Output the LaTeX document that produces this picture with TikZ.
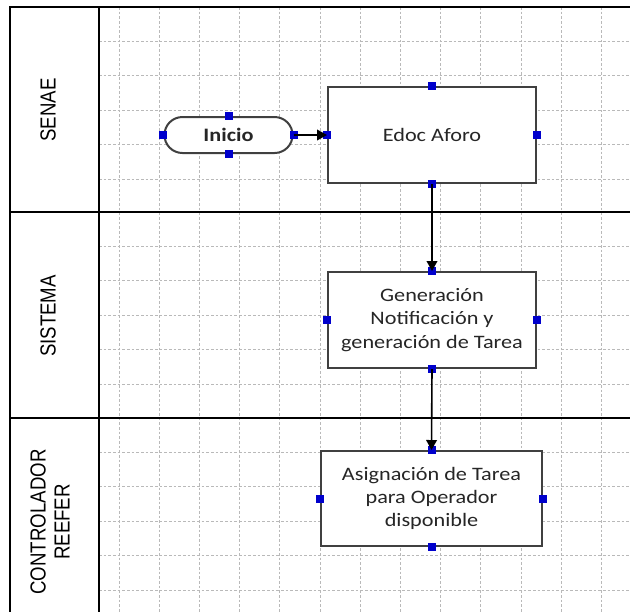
\documentclass[tikz,border=0pt]{standalone}
\usepackage{fontspec}
\setmainfont{Carlito}
\newfontfamily\boxfont[FakeStretch=1.17]{Carlito}
\newfontfamily\lanefont[FakeStretch=0.855]{Liberation Sans}
\usetikzlibrary{arrows.meta,shapes.misc}

\begin{document}
\begin{tikzpicture}[x=0.75pt, y=-0.75pt,
    lane/.style={line width=1.7pt, black},
    gridline/.style={gray!55, line width=0.6pt, dash pattern=on 2pt off 1.5pt},
    task/.style={draw=black!75, line width=1.5pt, fill=white, align=center, text=black!85,
      font=\boxfont\fontsize{14.25}{17.4}\selectfont},
    start/.style={task, rounded rectangle, font=\boxfont\bfseries\fontsize{14.25}{17.4}\selectfont},
    flow/.style={line width=1.2pt, -{Triangle[length=7.5pt,width=8pt]}},
    lanelabel/.style={rotate=90, align=center, font=\lanefont\fontsize{16.35}{18}\selectfont},
    cpoint/.style={fill=blue!80!black, minimum size=6pt, inner sep=0pt}]
  \useasboundingbox (0,0) rectangle (630,612);
  \fill[white] (0,0) rectangle (630,612);

  % grid of the lanes
  \foreach \gx in {0,...,12}
    \draw[gridline] ({119+40.2*\gx},7) -- ({119+40.2*\gx},612);
  \foreach \ltop in {7,212,418}
    \foreach \gy in {1,...,5}
      \draw[gridline] (99,{\ltop+34.4*\gy}) -- (630,{\ltop+34.4*\gy});

  % pool and lanes
  \draw[lane] (630,7) -- (10,7) -- (10,612);
  \draw[lane] (99,7) -- (99,612);
  \draw[lane] (10,212) -- (630,212);
  \draw[lane] (10,418) -- (630,418);

  \node[lanelabel] (senae) at (48,110) {SENAE};
  \node[lanelabel] (sistema) at (48,316) {SISTEMA};
  \node[lanelabel] (reefer) at (50,522) {CONTROLADOR\\REEFER};

  % steps
  \node[start, minimum width=102.75pt, minimum height=27pt] (inicio) at (228.5,135) {Inicio};
  \node[task, minimum width=156pt, minimum height=72pt] (aforo) at (432,135) {Edoc Aforo};
  \node[task, minimum width=156pt, minimum height=72pt] (notif) at (432,320)
    {Generación\\Notificación y\\generación de Tarea};
  \node[task, minimum width=165.75pt, minimum height=71.25pt] (asigna) at (431.5,498.5)
    {Asignación de Tarea\\para Operador\\disponible};

  % connection points
  \foreach \n in {inicio,aforo,notif,asigna}
    \foreach \a in {north,south,east,west}
      \node[cpoint] (\n-\a) at (\n.\a) {};

  % flow
  \draw[flow] (inicio.east) -- (aforo.west);
  \draw[flow] (aforo.south) -- (notif.north);
  \draw[flow] (notif.south) -- (asigna.north);
\end{tikzpicture}
\end{document}
